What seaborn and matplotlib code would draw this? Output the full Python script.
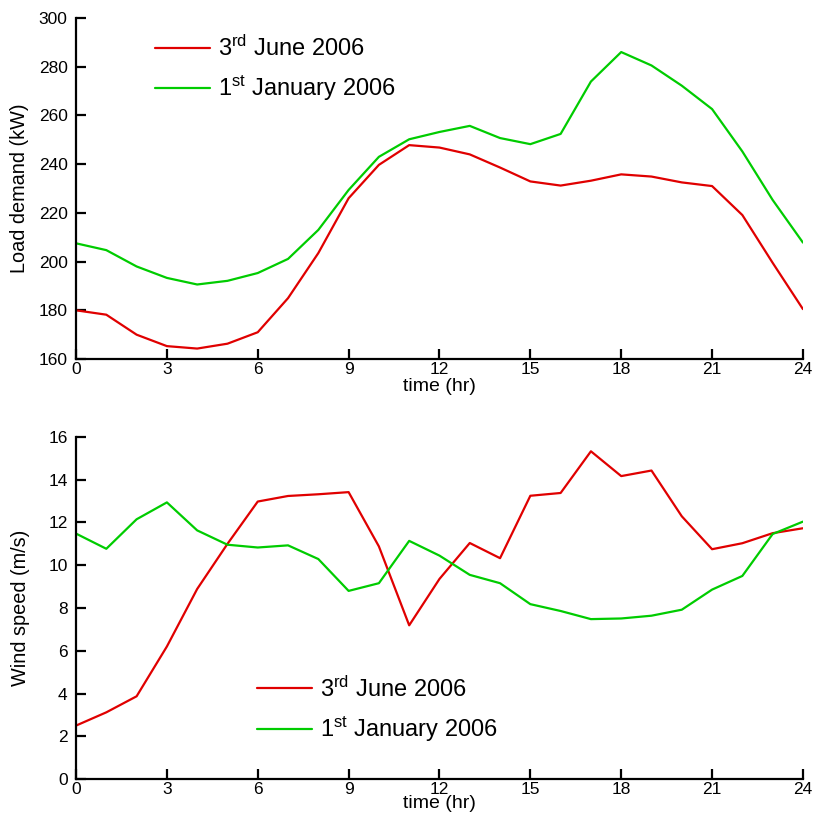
import matplotlib
matplotlib.use("Agg")
import matplotlib.pyplot as plt
import seaborn as sns
import pandas as pd

hours = list(range(25))

load_june = [180, 178.2, 170, 165.3, 164.3, 166.3, 171, 185, 203.5, 226, 239.7, 247.8, 246.8,
             244, 238.6, 232.9, 231.2, 233.2, 235.8, 234.9, 232.5, 231, 219.1, 199.5, 180.5]
load_january = [207.5, 204.7, 198, 193.3, 190.6, 192.1, 195.3, 201.1, 213, 229.4, 243, 250.2, 253.2,
                255.7, 250.7, 248.2, 252.4, 273.9, 286, 280.5, 272.2, 262.6, 245.2, 225.3, 207.8]

wind_june = [2.5, 3.12, 3.87, 6.2, 8.89, 11.0, 12.98, 13.24, 13.32, 13.42, 10.88, 7.19, 9.36,
             11.04, 10.33, 13.25, 13.38, 15.33, 14.17, 14.43, 12.29, 10.75, 11.03, 11.5, 11.73]
wind_january = [11.48, 10.77, 12.15, 12.94, 11.63, 10.96, 10.83, 10.93, 10.29, 8.8, 9.16, 11.14, 10.45,
                9.55, 9.16, 8.18, 7.86, 7.48, 7.51, 7.64, 7.92, 8.86, 9.5, 11.46, 12.04]

series_labels = [r"3$^{\rm rd}$ June 2006", r"1$^{\rm st}$ January 2006"]
series_colors = ["#e00000", "#00cc00"]

sns.set_style("ticks")
plt.rcParams["font.family"] = ["Liberation Sans", "DejaVu Sans"]
plt.rcParams["mathtext.fontset"] = "custom"
plt.rcParams["mathtext.rm"] = "Liberation Sans"
plt.rcParams["mathtext.it"] = "Liberation Sans:italic"
plt.rcParams["mathtext.bf"] = "Liberation Sans:bold"
plt.rcParams["text.color"] = "black"
plt.rcParams["axes.labelcolor"] = "black"
plt.rcParams["xtick.color"] = "black"
plt.rcParams["ytick.color"] = "black"

fig = plt.figure(figsize=(8.14, 8.16), dpi=100)
ax_load = fig.add_axes([0.0934, 0.560, 0.893, 0.418])
ax_wind = fig.add_axes([0.0934, 0.0453, 0.893, 0.4192])


def draw_panel(first, second, ax, xlabel_pad):
    df = pd.DataFrame({
        "time": hours + hours,
        "value": first + second,
        "series": [series_labels[0]] * len(hours) + [series_labels[1]] * len(hours),
    })
    sns.lineplot(data=df, x="time", y="value", hue="series",
                 palette=dict(zip(series_labels, series_colors)),
                 linewidth=1.6, ax=ax, legend=True)
    ax.set_xlim(0, 24)
    ax.set_xticks(range(0, 25, 3))
    for side in ("top", "right"):
        ax.spines[side].set_visible(False)
    for side in ("left", "bottom"):
        ax.spines[side].set_linewidth(1.6)
        ax.spines[side].set_color("black")
    ax.tick_params(axis="both", direction="in", length=7, width=1.6,
                   labelsize=12.5, colors="black")
    ax.tick_params(axis="x", pad=2)
    ax.tick_params(axis="y", pad=6)
    ax.set_xlabel("time (hr)", fontsize=14, labelpad=xlabel_pad, color="black")


draw_panel(load_june, load_january, ax_load, 1)
ax_load.set_ylim(160, 300)
ax_load.set_yticks(range(160, 301, 20))
ax_load.set_ylabel("Load demand (kW)", fontsize=14.3, labelpad=7, color="black")
ax_load.legend(loc="upper left", bbox_to_anchor=(0.08, 1.01), frameon=False,
               fontsize=17, handlelength=2.3, handletextpad=0.35, labelspacing=0.55)

draw_panel(wind_june, wind_january, ax_wind, -1)
ax_wind.set_ylim(0, 16)
ax_wind.set_yticks(range(0, 17, 2))
ax_wind.set_ylabel("Wind speed (m/s)", fontsize=14.3, labelpad=13, color="black")
ax_wind.legend(loc="upper left", bbox_to_anchor=(0.22, 0.362), frameon=False,
               fontsize=17, handlelength=2.3, handletextpad=0.35, labelspacing=0.55)

fig.savefig("out.png", dpi=100)
